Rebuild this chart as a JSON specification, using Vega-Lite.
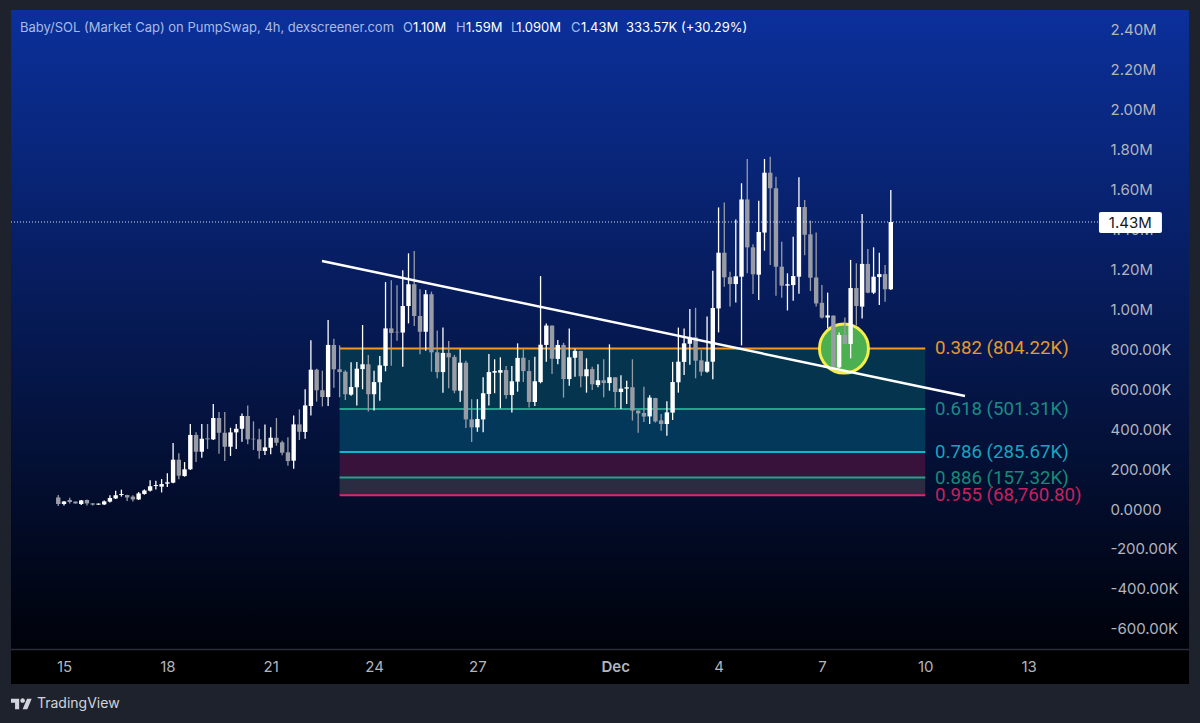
{"$schema":"https://vega.github.io/schema/vega-lite/v6.json","width":1200,"height":723,"autosize":"none","padding":0,"background":"#1e222d","view":{"stroke":null,"fill":{"gradient":"linear","x1":0,"y1":0,"x2":0,"y2":1,"stops":[{"offset":0.0138,"color":"#0b309b"},{"offset":0.8983,"color":"#00020a"},{"offset":0.8984,"color":"#000000"},{"offset":1,"color":"#000000"}]}},"config":{"font":"Inter","text":{"font":"Inter"}},
"datasets":{"candles":[
{"t":"2025-11-14T20:00:00Z","open":58,"high":70,"low":15,"close":25},
{"t":"2025-11-15T00:00:00Z","open":25,"high":40,"low":18,"close":37},
{"t":"2025-11-15T04:00:00Z","open":45,"high":57,"low":28,"close":35},
{"t":"2025-11-15T08:00:00Z","open":37,"high":38,"low":27,"close":28},
{"t":"2025-11-15T12:00:00Z","open":25,"high":45,"low":20,"close":43},
{"t":"2025-11-15T16:00:00Z","open":45,"high":47,"low":17,"close":28},
{"t":"2025-11-15T20:00:00Z","open":28,"high":30,"low":18,"close":22},
{"t":"2025-11-16T00:00:00Z","open":22,"high":28,"low":20,"close":27},
{"t":"2025-11-16T04:00:00Z","open":23,"high":42,"low":20,"close":38},
{"t":"2025-11-16T08:00:00Z","open":37,"high":69,"low":33,"close":55},
{"t":"2025-11-16T12:00:00Z","open":53,"high":92,"low":50,"close":69},
{"t":"2025-11-16T16:00:00Z","open":70,"high":97,"low":62,"close":75},
{"t":"2025-11-16T20:00:00Z","open":70,"high":72,"low":40,"close":58},
{"t":"2025-11-17T00:00:00Z","open":62,"high":69,"low":37,"close":48},
{"t":"2025-11-17T04:00:00Z","open":48,"high":85,"low":45,"close":78},
{"t":"2025-11-17T08:00:00Z","open":75,"high":98,"low":72,"close":93},
{"t":"2025-11-17T12:00:00Z","open":92,"high":144,"low":88,"close":114},
{"t":"2025-11-17T16:00:00Z","open":115,"high":142,"low":98,"close":120},
{"t":"2025-11-17T20:00:00Z","open":112,"high":150,"low":83,"close":125},
{"t":"2025-11-18T00:00:00Z","open":127,"high":179,"low":110,"close":134},
{"t":"2025-11-18T04:00:00Z","open":132,"high":331,"low":129,"close":247},
{"t":"2025-11-18T08:00:00Z","open":247,"high":279,"low":149,"close":167},
{"t":"2025-11-18T12:00:00Z","open":165,"high":235,"low":162,"close":199},
{"t":"2025-11-18T16:00:00Z","open":199,"high":426,"low":195,"close":371},
{"t":"2025-11-18T20:00:00Z","open":371,"high":384,"low":235,"close":287},
{"t":"2025-11-19T00:00:00Z","open":287,"high":426,"low":257,"close":352},
{"t":"2025-11-19T04:00:00Z","open":354,"high":426,"low":301,"close":349},
{"t":"2025-11-19T08:00:00Z","open":349,"high":526,"low":346,"close":456},
{"t":"2025-11-19T12:00:00Z","open":456,"high":486,"low":277,"close":382},
{"t":"2025-11-19T16:00:00Z","open":382,"high":486,"low":240,"close":312},
{"t":"2025-11-19T20:00:00Z","open":312,"high":407,"low":266,"close":384},
{"t":"2025-11-20T00:00:00Z","open":384,"high":426,"low":301,"close":402},
{"t":"2025-11-20T04:00:00Z","open":402,"high":479,"low":337,"close":466},
{"t":"2025-11-20T08:00:00Z","open":466,"high":519,"low":324,"close":349},
{"t":"2025-11-20T12:00:00Z","open":352,"high":439,"low":296,"close":349},
{"t":"2025-11-20T16:00:00Z","open":349,"high":402,"low":252,"close":291},
{"t":"2025-11-20T20:00:00Z","open":291,"high":424,"low":271,"close":309},
{"t":"2025-11-21T00:00:00Z","open":307,"high":409,"low":274,"close":357},
{"t":"2025-11-21T04:00:00Z","open":357,"high":456,"low":317,"close":332},
{"t":"2025-11-21T08:00:00Z","open":334,"high":342,"low":269,"close":282},
{"t":"2025-11-21T12:00:00Z","open":284,"high":359,"low":217,"close":240},
{"t":"2025-11-21T16:00:00Z","open":242,"high":469,"low":202,"close":424},
{"t":"2025-11-21T20:00:00Z","open":424,"high":499,"low":346,"close":387},
{"t":"2025-11-22T00:00:00Z","open":386,"high":600,"low":352,"close":519},
{"t":"2025-11-22T04:00:00Z","open":516,"high":845,"low":469,"close":698},
{"t":"2025-11-22T08:00:00Z","open":698,"high":703,"low":538,"close":595},
{"t":"2025-11-22T12:00:00Z","open":595,"high":693,"low":514,"close":561},
{"t":"2025-11-22T16:00:00Z","open":561,"high":947,"low":516,"close":822},
{"t":"2025-11-22T20:00:00Z","open":822,"high":853,"low":608,"close":700},
{"t":"2025-11-23T00:00:00Z","open":700,"high":820,"low":560,"close":686},
{"t":"2025-11-23T04:00:00Z","open":688,"high":695,"low":546,"close":575},
{"t":"2025-11-23T08:00:00Z","open":573,"high":735,"low":568,"close":611},
{"t":"2025-11-23T12:00:00Z","open":610,"high":737,"low":519,"close":703},
{"t":"2025-11-23T16:00:00Z","open":701,"high":922,"low":600,"close":725},
{"t":"2025-11-23T20:00:00Z","open":725,"high":772,"low":488,"close":575},
{"t":"2025-11-24T00:00:00Z","open":575,"high":693,"low":493,"close":636},
{"t":"2025-11-24T04:00:00Z","open":635,"high":767,"low":543,"close":720},
{"t":"2025-11-24T08:00:00Z","open":717,"high":1137,"low":690,"close":905},
{"t":"2025-11-24T12:00:00Z","open":905,"high":1146,"low":718,"close":882},
{"t":"2025-11-24T16:00:00Z","open":888,"high":1121,"low":843,"close":885},
{"t":"2025-11-24T20:00:00Z","open":884,"high":1196,"low":713,"close":1017},
{"t":"2025-11-25T00:00:00Z","open":1017,"high":1281,"low":930,"close":1126},
{"t":"2025-11-25T04:00:00Z","open":1126,"high":1293,"low":917,"close":967},
{"t":"2025-11-25T08:00:00Z","open":967,"high":1101,"low":775,"close":888},
{"t":"2025-11-25T12:00:00Z","open":888,"high":1097,"low":793,"close":1076},
{"t":"2025-11-25T16:00:00Z","open":1076,"high":1089,"low":688,"close":785},
{"t":"2025-11-25T20:00:00Z","open":785,"high":894,"low":655,"close":686},
{"t":"2025-11-26T00:00:00Z","open":686,"high":909,"low":583,"close":782},
{"t":"2025-11-26T04:00:00Z","open":782,"high":842,"low":605,"close":760},
{"t":"2025-11-26T08:00:00Z","open":762,"high":772,"low":580,"close":593},
{"t":"2025-11-26T12:00:00Z","open":593,"high":800,"low":536,"close":733},
{"t":"2025-11-26T16:00:00Z","open":733,"high":743,"low":406,"close":449},
{"t":"2025-11-26T20:00:00Z","open":449,"high":550,"low":336,"close":409},
{"t":"2025-11-27T00:00:00Z","open":409,"high":550,"low":387,"close":451},
{"t":"2025-11-27T04:00:00Z","open":449,"high":660,"low":384,"close":580},
{"t":"2025-11-27T08:00:00Z","open":576,"high":777,"low":518,"close":686},
{"t":"2025-11-27T12:00:00Z","open":683,"high":750,"low":580,"close":691},
{"t":"2025-11-27T16:00:00Z","open":683,"high":760,"low":504,"close":696},
{"t":"2025-11-27T20:00:00Z","open":696,"high":717,"low":553,"close":571},
{"t":"2025-11-28T00:00:00Z","open":571,"high":717,"low":483,"close":640},
{"t":"2025-11-28T04:00:00Z","open":638,"high":830,"low":588,"close":757},
{"t":"2025-11-28T08:00:00Z","open":758,"high":800,"low":636,"close":691},
{"t":"2025-11-28T12:00:00Z","open":691,"high":747,"low":508,"close":536},
{"t":"2025-11-28T16:00:00Z","open":536,"high":763,"low":516,"close":640},
{"t":"2025-11-28T20:00:00Z","open":636,"high":1167,"low":630,"close":823},
{"t":"2025-11-29T00:00:00Z","open":822,"high":930,"low":738,"close":919},
{"t":"2025-11-29T04:00:00Z","open":919,"high":920,"low":676,"close":753},
{"t":"2025-11-29T08:00:00Z","open":752,"high":847,"low":725,"close":822},
{"t":"2025-11-29T12:00:00Z","open":822,"high":833,"low":558,"close":651},
{"t":"2025-11-29T16:00:00Z","open":651,"high":905,"low":618,"close":760},
{"t":"2025-11-29T20:00:00Z","open":758,"high":803,"low":663,"close":792},
{"t":"2025-11-30T00:00:00Z","open":792,"high":793,"low":610,"close":665},
{"t":"2025-11-30T04:00:00Z","open":665,"high":755,"low":583,"close":700},
{"t":"2025-11-30T08:00:00Z","open":701,"high":713,"low":596,"close":625},
{"t":"2025-11-30T12:00:00Z","open":621,"high":725,"low":610,"close":645},
{"t":"2025-11-30T16:00:00Z","open":645,"high":750,"low":560,"close":631},
{"t":"2025-11-30T20:00:00Z","open":631,"high":825,"low":593,"close":660},
{"t":"2025-12-01T00:00:00Z","open":660,"high":660,"low":508,"close":586},
{"t":"2025-12-01T04:00:00Z","open":586,"high":670,"low":501,"close":603},
{"t":"2025-12-01T08:00:00Z","open":603,"high":643,"low":526,"close":610},
{"t":"2025-12-01T12:00:00Z","open":610,"high":750,"low":443,"close":493},
{"t":"2025-12-01T16:00:00Z","open":493,"high":495,"low":382,"close":479},
{"t":"2025-12-01T20:00:00Z","open":481,"high":613,"low":436,"close":463},
{"t":"2025-12-02T00:00:00Z","open":464,"high":570,"low":426,"close":558},
{"t":"2025-12-02T04:00:00Z","open":556,"high":557,"low":433,"close":439},
{"t":"2025-12-02T08:00:00Z","open":444,"high":476,"low":392,"close":426},
{"t":"2025-12-02T12:00:00Z","open":426,"high":540,"low":367,"close":484},
{"t":"2025-12-02T16:00:00Z","open":483,"high":737,"low":446,"close":636},
{"t":"2025-12-02T20:00:00Z","open":635,"high":909,"low":583,"close":738},
{"t":"2025-12-03T00:00:00Z","open":737,"high":905,"low":672,"close":830},
{"t":"2025-12-03T04:00:00Z","open":828,"high":1002,"low":723,"close":858},
{"t":"2025-12-03T08:00:00Z","open":860,"high":1008,"low":655,"close":743},
{"t":"2025-12-03T12:00:00Z","open":745,"high":797,"low":668,"close":688},
{"t":"2025-12-03T16:00:00Z","open":688,"high":964,"low":683,"close":738},
{"t":"2025-12-03T20:00:00Z","open":738,"high":1194,"low":650,"close":1007},
{"t":"2025-12-04T00:00:00Z","open":1005,"high":1511,"low":885,"close":1284},
{"t":"2025-12-04T04:00:00Z","open":1284,"high":1536,"low":1114,"close":1161},
{"t":"2025-12-04T08:00:00Z","open":1162,"high":1189,"low":1014,"close":1127},
{"t":"2025-12-04T12:00:00Z","open":1127,"high":1451,"low":1035,"close":1166},
{"t":"2025-12-04T16:00:00Z","open":1164,"high":1632,"low":820,"close":1551},
{"t":"2025-12-04T20:00:00Z","open":1551,"high":1754,"low":1181,"close":1311},
{"t":"2025-12-05T00:00:00Z","open":1311,"high":1326,"low":1077,"close":1176},
{"t":"2025-12-05T04:00:00Z","open":1174,"high":1545,"low":1047,"close":1388},
{"t":"2025-12-05T08:00:00Z","open":1385,"high":1754,"low":1294,"close":1685},
{"t":"2025-12-05T12:00:00Z","open":1685,"high":1765,"low":1222,"close":1607},
{"t":"2025-12-05T16:00:00Z","open":1607,"high":1665,"low":1069,"close":1214},
{"t":"2025-12-05T20:00:00Z","open":1214,"high":1339,"low":1059,"close":1119},
{"t":"2025-12-06T00:00:00Z","open":1119,"high":1181,"low":995,"close":1126},
{"t":"2025-12-06T04:00:00Z","open":1122,"high":1364,"low":1044,"close":1167},
{"t":"2025-12-06T08:00:00Z","open":1164,"high":1662,"low":1079,"close":1513},
{"t":"2025-12-06T12:00:00Z","open":1513,"high":1548,"low":1271,"close":1374},
{"t":"2025-12-06T16:00:00Z","open":1376,"high":1445,"low":1092,"close":1159},
{"t":"2025-12-06T20:00:00Z","open":1160,"high":1386,"low":1014,"close":1030},
{"t":"2025-12-07T00:00:00Z","open":1033,"high":1122,"low":955,"close":959},
{"t":"2025-12-07T04:00:00Z","open":959,"high":1084,"low":905,"close":970},
{"t":"2025-12-07T08:00:00Z","open":969,"high":970,"low":711,"close":713},
{"t":"2025-12-07T12:00:00Z","open":710,"high":884,"low":705,"close":872},
{"t":"2025-12-07T16:00:00Z","open":872,"high":960,"low":825,"close":827},
{"t":"2025-12-07T20:00:00Z","open":827,"high":1248,"low":755,"close":1107},
{"t":"2025-12-08T00:00:00Z","open":1107,"high":1231,"low":919,"close":1017},
{"t":"2025-12-08T04:00:00Z","open":1014,"high":1478,"low":955,"close":1228},
{"t":"2025-12-08T08:00:00Z","open":1228,"high":1303,"low":1081,"close":1084},
{"t":"2025-12-08T12:00:00Z","open":1084,"high":1311,"low":1077,"close":1164},
{"t":"2025-12-08T16:00:00Z","open":1162,"high":1284,"low":1022,"close":1177},
{"t":"2025-12-08T20:00:00Z","open":1177,"high":1222,"low":1039,"close":1101},
{"t":"2025-12-09T00:00:00Z","open":1101,"high":1598,"low":1097,"close":1438}
],
"fib":[
{"level":"0.382","label":"0.382 (804.22K)","value":804.22,"next":501.31,"start":"2025-11-23T00:00:00Z","end":"2025-12-10T00:00:00Z","labelAt":"2025-12-10T06:47:00Z"},
{"level":"0.618","label":"0.618 (501.31K)","value":501.31,"next":285.67,"start":"2025-11-23T00:00:00Z","end":"2025-12-10T00:00:00Z","labelAt":"2025-12-10T06:47:00Z"},
{"level":"0.786","label":"0.786 (285.67K)","value":285.67,"next":157.32,"start":"2025-11-23T00:00:00Z","end":"2025-12-10T00:00:00Z","labelAt":"2025-12-10T06:47:00Z"},
{"level":"0.886","label":"0.886 (157.32K)","value":157.32,"next":68.76,"start":"2025-11-23T00:00:00Z","end":"2025-12-10T00:00:00Z","labelAt":"2025-12-10T06:47:00Z"},
{"level":"0.955","label":"0.955 (68,760.80)","value":68.76,"start":"2025-11-23T00:00:00Z","end":"2025-12-10T00:00:00Z","labelAt":"2025-12-10T06:47:00Z"}
]},
"encoding":{"x":{"field":"t","type":"temporal","scale":{"type":"utc","padding":0,"domain":["2025-11-13T03:25:00Z","2025-12-17T23:24:00Z"]},"axis":{"orient":"bottom","offset":-73,"title":null,"domain":false,"ticks":false,"grid":false,"labelPadding":9,"labelFont":"Inter","labelFontSize":15,"labelColor":"#b2b5be","labelOverlap":false,"values":["2025-11-15T00:00:00Z","2025-11-18T00:00:00Z","2025-11-21T00:00:00Z","2025-11-24T00:00:00Z","2025-11-27T00:00:00Z","2025-12-01T00:00:00Z","2025-12-04T00:00:00Z","2025-12-07T00:00:00Z","2025-12-10T00:00:00Z","2025-12-13T00:00:00Z"],"labelExpr":"utcdate(datum.value)==1?'Dec':''+utcdate(datum.value)","labelFontWeight":{"condition":{"test":"utcdate(datum.value)==1","value":600},"value":400}}},
"y":{"type":"quantitative","scale":{"domain":[-1072.2,2550.3],"nice":false,"zero":false},"axis":{"orient":"right","offset":-100,"title":null,"domain":false,"ticks":false,"grid":false,"labelPadding":10,"labelAlign":"left","labelBaseline":"middle","labelFont":"Inter","labelFontSize":15,"labelColor":"#b2b5be","labelOverlap":false,"values":[-600,-400,-200,0,200,400,600,800,1000,1200,1400,1600,1800,2000,2200,2400],"labelExpr":"datum.value==0?'0.0000':(abs(datum.value)>=1000?format(datum.value/1000,'.2f')+'M':(datum.value<0?'-':'')+format(abs(datum.value),'.2f')+'K')"}}},
"layer":[
{"data":{"name":"fib"},"transform":[{"filter":"isValid(datum.next)"}],"mark":{"type":"rect"},"encoding":{"x":{"field":"start","type":"temporal"},"x2":{"field":"end"},"y":{"field":"value","type":"quantitative"},"y2":{"field":"next"},"color":{"field":"level","type":"nominal","legend":null,"scale":{"domain":["0.382","0.618","0.786","0.886"],"range":["#05344f","#03385a","#38123a","#2b2c42"]}}}},
{"data":{"name":"fib"},"mark":{"type":"rule","strokeWidth":2},"encoding":{"x":{"field":"start","type":"temporal"},"x2":{"field":"end"},"y":{"field":"value","type":"quantitative"},"color":{"field":"level","type":"nominal","legend":null,"scale":{"domain":["0.382","0.618","0.786","0.886","0.955"],"range":["#f7961e","#1fa48f","#10b6cf","#1fa48f","#e2246a"]}}}},
{"data":{"name":"fib"},"mark":{"type":"text","align":"left","baseline":"middle","fontSize":18.7,"font":"Roboto"},"encoding":{"x":{"field":"labelAt","type":"temporal"},"y":{"field":"value","type":"quantitative"},"text":{"field":"label"},"color":{"field":"level","type":"nominal","legend":null,"scale":{"domain":["0.382","0.618","0.786","0.886","0.955"],"range":["#e39a2f","#1d8b84","#1aa3bf","#178a78","#c8205f"]}}}},
{"data":{"values":[{"t":"2025-12-07T15:22:00Z","v":804}]},"mark":{"type":"point","shape":"circle","filled":true,"fill":"#4caf50","fillOpacity":1,"stroke":"#f5ee4a","strokeWidth":3,"strokeOpacity":1,"size":2401},"encoding":{"x":{"field":"t","type":"temporal"},"y":{"field":"v","type":"quantitative"}}},
{"data":{"name":"candles"},"mark":{"type":"rule","strokeWidth":1.3},"encoding":{"x":{"field":"t","type":"temporal"},"y":{"field":"low","type":"quantitative"},"y2":{"field":"high"},"color":{"condition":{"test":"datum.close>=datum.open","value":"#ffffff"},"value":"#9a9ca5"}}},
{"data":{"name":"candles"},"mark":{"type":"bar","size":4.4},"encoding":{"x":{"field":"t","type":"temporal"},"y":{"field":"open","type":"quantitative"},"y2":{"field":"close"},"color":{"condition":{"test":"datum.close>=datum.open","value":"#ffffff"},"value":"#9a9ca5"}}},
{"data":{"values":[{"t":"2025-11-22T11:44:00Z","v":1242.6},{"t":"2025-12-11T03:40:00Z","v":566}]},"mark":{"type":"line","color":"#ffffff","strokeWidth":2.5},"encoding":{"x":{"field":"t","type":"temporal"},"y":{"field":"v","type":"quantitative"}}},
{"data":{"values":[{"t":"2025-11-13T11:05:00Z","t2":"2025-12-15T01:00:00Z","v":1438}]},"mark":{"type":"rule","color":"#ffffff","strokeWidth":1,"strokeDash":[1,2],"opacity":0.85},"encoding":{"x":{"field":"t","type":"temporal"},"x2":{"field":"t2"},"y":{"field":"v","type":"quantitative"}}},
{"data":{"values":[{"t":"2025-12-15T01:00:00Z","t2":"2025-12-16T20:53:00Z","v":1488,"v2":1383}]},"mark":{"type":"rect","color":"#ffffff","cornerRadius":2},"encoding":{"x":{"field":"t","type":"temporal"},"x2":{"field":"t2"},"y":{"field":"v","type":"quantitative"},"y2":{"field":"v2"}}},
{"data":{"values":[{"t":"2025-12-15T07:55:00Z","v":1434,"label":"1.43M"}]},"mark":{"type":"text","align":"left","baseline":"middle","fontSize":15,"color":"#131722","font":"Inter"},"encoding":{"x":{"field":"t","type":"temporal"},"y":{"field":"v","type":"quantitative"},"text":{"field":"label"}}},
{"data":{"values":[{"t":"2025-11-13T03:25:00Z","t2":"2025-12-17T23:24:00Z","v":2550.3,"v2":2500},{"t":"2025-11-13T03:25:00Z","t2":"2025-12-17T23:24:00Z","v":-876.8,"v2":-1072.2},{"t":"2025-11-13T03:25:00Z","t2":"2025-11-13T11:05:00Z","v":2550.3,"v2":-1072.2},{"t":"2025-12-17T15:45:00Z","t2":"2025-12-17T23:24:00Z","v":2550.3,"v2":-1072.2}]},"mark":{"type":"rect","color":"#1e222d"},"encoding":{"x":{"field":"t","type":"temporal"},"x2":{"field":"t2"},"y":{"field":"v","type":"quantitative"},"y2":{"field":"v2"}}},
{"data":{"values":[{"t":"2025-11-13T11:05:00Z","t2":"2025-12-17T15:45:00Z","v":-704}]},"mark":{"type":"rule","color":"#2a2e39","strokeWidth":1.5},"encoding":{"x":{"field":"t","type":"temporal"},"x2":{"field":"t2"},"y":{"field":"v","type":"quantitative"}}},
{"data":{"values":[{"t":"2025-11-13T17:21:00Z","v":2410,"label":"Baby/SOL (Market Cap) on PumpSwap, 4h, dexscreener.com"},{"t":"2025-11-24T20:10:00Z","v":2410,"label":"O"},{"t":"2025-11-26T09:06:00Z","v":2410,"label":"H"},{"t":"2025-11-27T23:24:00Z","v":2410,"label":"L"},{"t":"2025-11-29T17:12:00Z","v":2410,"label":"C"}]},"mark":{"type":"text","align":"left","baseline":"middle","fontSize":13,"color":"#a9bbe6","font":"Inter"},"encoding":{"x":{"field":"t","type":"temporal"},"y":{"field":"v","type":"quantitative"},"text":{"field":"label"}}},
{"data":{"values":[{"t":"2025-11-25T03:08:00Z","v":2410,"label":"1.10M"},{"t":"2025-11-26T16:03:00Z","v":2410,"label":"1.59M"},{"t":"2025-11-28T03:00:00Z","v":2410,"label":"1.090M"},{"t":"2025-11-30T00:10:00Z","v":2410,"label":"1.43M"},{"t":"2025-12-01T07:31:00Z","v":2410,"label":"333.57K (+30.29%)"}]},"mark":{"type":"text","align":"left","baseline":"middle","fontSize":13,"color":"#ffffff","font":"Inter"},"encoding":{"x":{"field":"t","type":"temporal"},"y":{"field":"v","type":"quantitative"},"text":{"field":"label"}}},
{"data":{"values":[{"t":"2025-11-14T05:11:00Z","v":-977,"label":"TradingView"}]},"mark":{"type":"text","align":"left","baseline":"middle","fontSize":14,"color":"#d1d4dc","font":"Inter"},"encoding":{"x":{"field":"t","type":"temporal"},"y":{"field":"v","type":"quantitative"},"text":{"field":"label"}}},
{"data":{"values":[{"t":"2025-11-13T18:23:00Z","v":-977}]},"mark":{"type":"point","filled":true,"fill":"#d1d4dc","fillOpacity":1,"strokeWidth":0,"size":441,"shape":"M-0.222 0.5H-0.611V-0.111H-1V-0.5H-0.222ZM0.556 0.5H0.111L0.528 -0.5H0.972ZM0.333 -0.333A0.222 0.222 0 1 1 -0.111 -0.333A0.222 0.222 0 1 1 0.333 -0.333Z"},"encoding":{"x":{"field":"t","type":"temporal"},"y":{"field":"v","type":"quantitative"}}}
],"resolve":{"scale":{"color":"independent"}}}
